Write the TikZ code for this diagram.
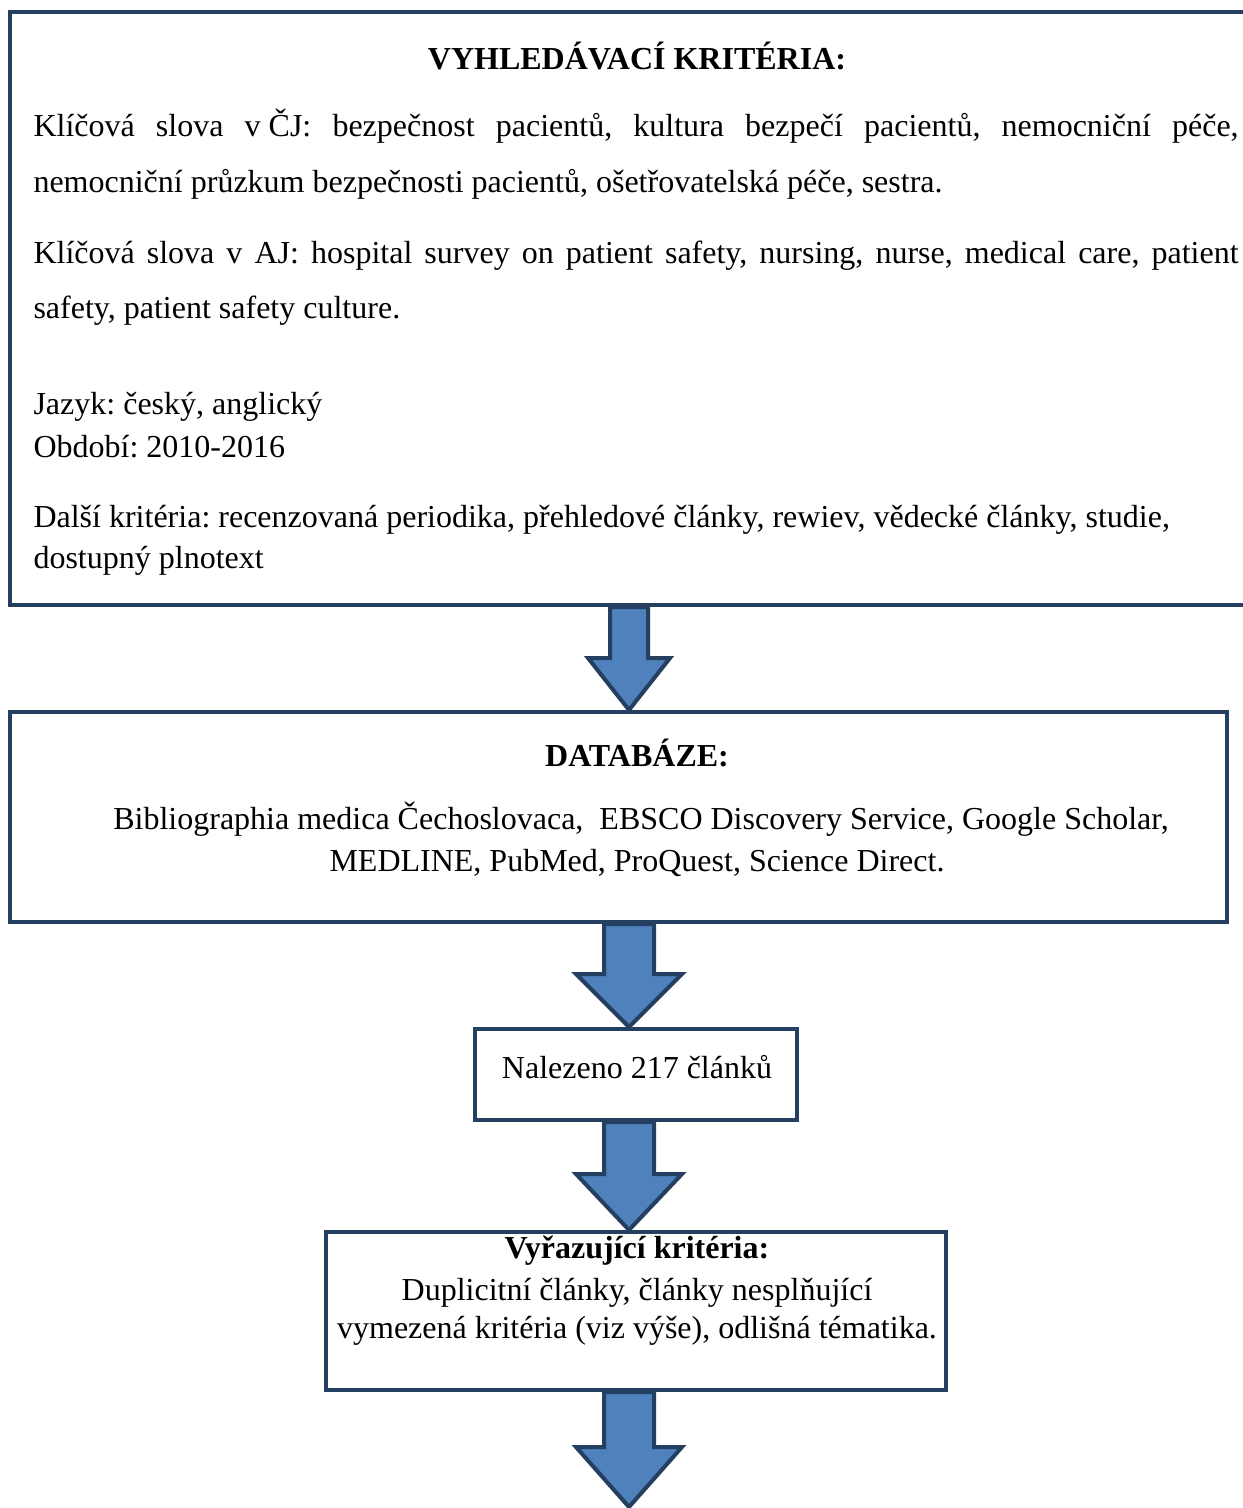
\documentclass[tikz,border=0pt]{standalone}
\usepackage{fontspec}
\setmainfont{Liberation Serif}
\frenchspacing
\usetikzlibrary{calc,fit}
\definecolor{boxBlue}{HTML}{243F60}
\definecolor{arrBlue}{HTML}{4F81BD}
\tikzset{
  flowbox/.style={draw=boxBlue,line width=1.5pt,inner sep=0pt},
  fatarrow/.style={draw=boxBlue,fill=arrBlue,line width=1.5pt,line join=miter},
  txt/.style={inner sep=0pt,anchor=base west},
  ctr/.style={inner sep=0pt,anchor=base}
}
% block arrow: top point, tip point, shaft half width, head half width, head length
\newcommand{\blockarr}[5]{%
  \draw[fatarrow] ($(#1)+(-#3,0)$) -- ($(#2)+(-#3,-#5)$) -- ($(#2)+(-#4,-#5)$) -- (#2)
    -- ($(#2)+(#4,-#5)$) -- ($(#2)+(#3,-#5)$) -- ($(#1)+(#3,0)$) -- cycle;}
\begin{document}
\begin{tikzpicture}[x={(0.375pt,0)},y={(0,-0.375pt)},font=\fontsize{12}{14}\selectfont]
  \useasboundingbox (0,0) rectangle (1243,1508);
  \clip (0,0) rectangle (1243,1508);
  % boxes
  \node[flowbox,fit={(9.5,12) (1262,605)}] (crit) {};
  \node[flowbox,fit={(9.5,712) (1227,922)}] (db) {};
  \node[flowbox,fit={(475,1029) (797,1120)}] (found) {};
  \node[flowbox,fit={(325.5,1232) (946,1390)}] (excl) {};
  \coordinate (axis) at (629,0);
  \coordinate (end) at (629,1507);
  % search criteria
  \node[ctr] (crithead) at (637,69) {\textbf{VYHLEDÁVACÍ KRITÉRIA:}};
  \node[txt] (kwcz1) at (33,136) {\makebox[451.9pt][s]{Klíčová slova \mbox{v ČJ:} bezpečnost pacientů, kultura bezpečí pacientů, nemocniční péče,}};
  \node[txt] (kwcz2) at (33,192) {nemocniční průzkum bezpečnosti pacientů, ošetřovatelská péče, sestra.};
  \node[txt] (kwen1) at (33,263) {\makebox[451.9pt][s]{Klíčová slova v AJ: hospital survey on patient safety, nursing, nurse, medical care, patient}};
  \node[txt] (kwen2) at (33,318) {safety, patient safety culture.};
  \node[txt] (lang) at (33,414) {Jazyk: český, anglický};
  \node[txt] (period) at (33,457) {Období: 2010-2016};
  \node[txt] (other1) at (33,527) {Další kritéria: recenzovaná periodika, přehledové články, rewiev, vědecké články, studie,};
  \node[txt] (other2) at (33,568) {dostupný plnotext};
  % databases
  \node[ctr] (dbhead) at (637,766) {\textbf{DATABÁZE:}};
  \node[ctr] (db1) at (641,829) {Bibliographia medica Čechoslovaca,\ \ EBSCO Discovery Service, Google Scholar,};
  \node[ctr] (db2) at (637,871) {MEDLINE, PubMed, ProQuest, Science Direct.};
  % results
  \node[ctr] (foundtxt) at (637,1078) {Nalezeno 217 článků};
  \node[ctr] (exclhead) at (637,1258) {\textbf{Vyřazující kritéria:}};
  \node[ctr] (excl1) at (637,1300) {Duplicitní články, články nesplňující};
  \node[ctr] (excl2) at (637,1338) {vymezená kritéria (viz výše), odlišná tématika.};
  % arrows
  \coordinate (a1s) at (crit.south -| axis);
  \coordinate (a1e) at (db.north -| axis);
  \coordinate (a2s) at (db.south -| axis);
  \coordinate (a2e) at (found.north -| axis);
  \coordinate (a3s) at (found.south -| axis);
  \coordinate (a3e) at (excl.north -| axis);
  \coordinate (a4s) at (excl.south -| axis);
  \blockarr{a1s}{a1e}{19}{41}{52}
  \blockarr{a2s}{a2e}{25}{53}{53}
  \blockarr{a3s}{a3e}{25}{53}{56}
  \blockarr{a4s}{end}{25}{53}{60}
\end{tikzpicture}
\end{document}
